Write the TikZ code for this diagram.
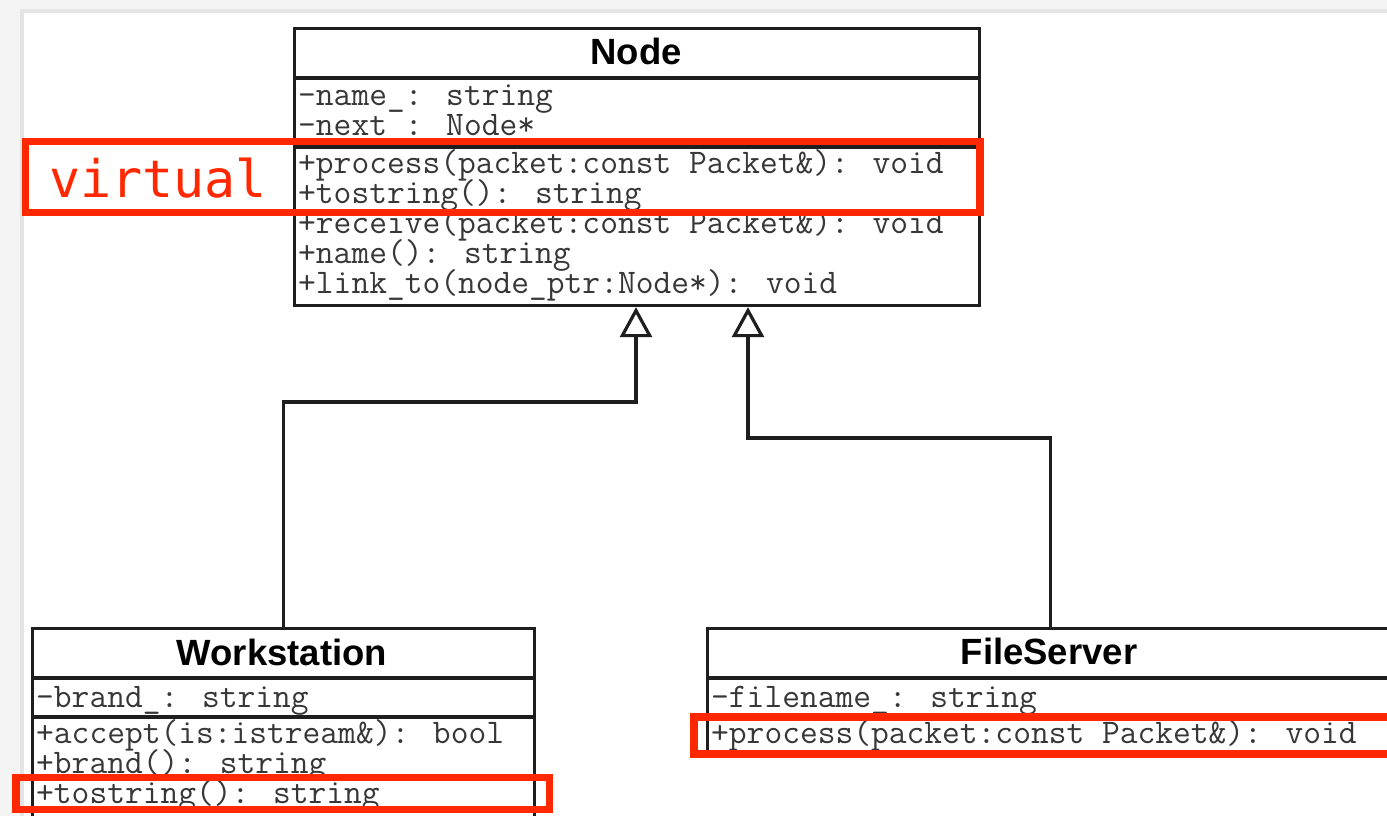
\documentclass[tikz,border=0pt]{standalone}
\usepackage{fontspec}
\usetikzlibrary{arrows.meta}
\newfontfamily\umlsans{Liberation Sans}
\newfontfamily\virtmono{DejaVu Sans Mono}
\definecolor{annot}{RGB}{255,40,0}
\definecolor{umltext}{RGB}{55,55,55}
\definecolor{umlline}{RGB}{30,30,30}
\definecolor{bggray}{RGB}{244,244,244}
\definecolor{shadowgray}{RGB}{228,228,228}
\begin{document}
\begin{tikzpicture}[x=1pt,y=-1pt,
  classbox/.style={draw=umlline, line width=3.2pt, fill=white, rectangle, inner sep=0pt, anchor=north west},
  sepline/.style={draw=umlline, line width=3.2pt},
  umltitle/.style={font=\umlsans\bfseries\fontsize{36.5}{40}\selectfont, text=black, anchor=base, inner sep=0pt},
  member/.style={font=\ttfamily\fontsize{34.5}{34}\selectfont, text=umltext, anchor=base west, inner sep=0pt},
  inh/.style={draw=umlline, line width=3.2pt, -{Triangle[open, length=30pt, width=32pt]}},
  annotbox/.style={draw=annot, line width=7.5pt},
  annottext/.style={font=\virtmono\fontsize{51.7}{55}\selectfont, text=annot, anchor=base west, inner sep=0pt}]
\useasboundingbox (0,0) rectangle (1387,816);
\clip (0,0) rectangle (1387,816);
% page background
\fill[bggray] (0,0) rectangle (1387,816);
\fill[shadowgray] (20,9) rectangle (1387,816);
\fill[white] (24,13) rectangle (1387,816);

% class boxes
\node[classbox, minimum width=685pt, minimum height=277pt] (node) at (293,27) {};
\node[classbox, minimum width=502pt, minimum height=200pt] (ws) at (31,627) {};
\node[classbox, minimum width=686pt, minimum height=124pt] (fs) at (706,627) {};

% compartment separators
\draw[sepline] (293,78) -- (978,78);
\draw[sepline] (293,147) -- (978,147);
\draw[sepline] (31,678) -- (533,678);
\draw[sepline] (31,717) -- (533,717);
\draw[sepline] (706,678) -- (1392,678);
\draw[sepline] (706,717) -- (1392,717);

% titles
\node[umltitle] (nodeT) at (636,65) {Node};
\node[umltitle] (wsT) at (282,665) {Workstation};
\node[umltitle] (fsT) at (1049,664) {FileServer};

% Node members
\node[member] (n1) at (298,106) {-name\_: string};
\node[member] (n2) at (298,135) {-next\_: Node*};
\node[member] (n3) at (298,173) {+process(packet:const Packet\&): void};
\node[member] (n4) at (298,203) {+tostring(): string};
\node[member] (n5) at (298,233) {+receive(packet:const Packet\&): void};
\node[member] (n6) at (298,263) {+name(): string};
\node[member] (n7) at (298,293) {+link\_to(node\_ptr:Node*): void};

% Workstation members
\node[member] (w1) at (36,707) {-brand\_: string};
\node[member] (w2) at (36,743) {+accept(is:istream\&): bool};
\node[member] (w3) at (36,773) {+brand(): string};
\node[member] (w4) at (36,803) {+tostring(): string};

% FileServer members
\node[member] (f1) at (711,707) {-filename\_: string};
\node[member] (f2) at (711,743) {+process(packet:const Packet\&): void};

% inheritance connectors
\coordinate (wsbend) at (636,402);
\coordinate (fsbend) at (748,438);
\draw[inh] (ws.north) |- (wsbend) -- (node.south -| wsbend);
\draw[inh] (fs.north) |- (fsbend) -- (node.south -| fsbend);

% annotations
\draw[annotbox] (25.5,141.5) rectangle (980,212.5);
\node[annottext] (virt) at (49,197) {virtual};
\draw[annotbox] (16,777.5) rectangle (549.5,809.5);
\draw[annotbox] (694,717) rectangle (1400,754);
\end{tikzpicture}
\end{document}
